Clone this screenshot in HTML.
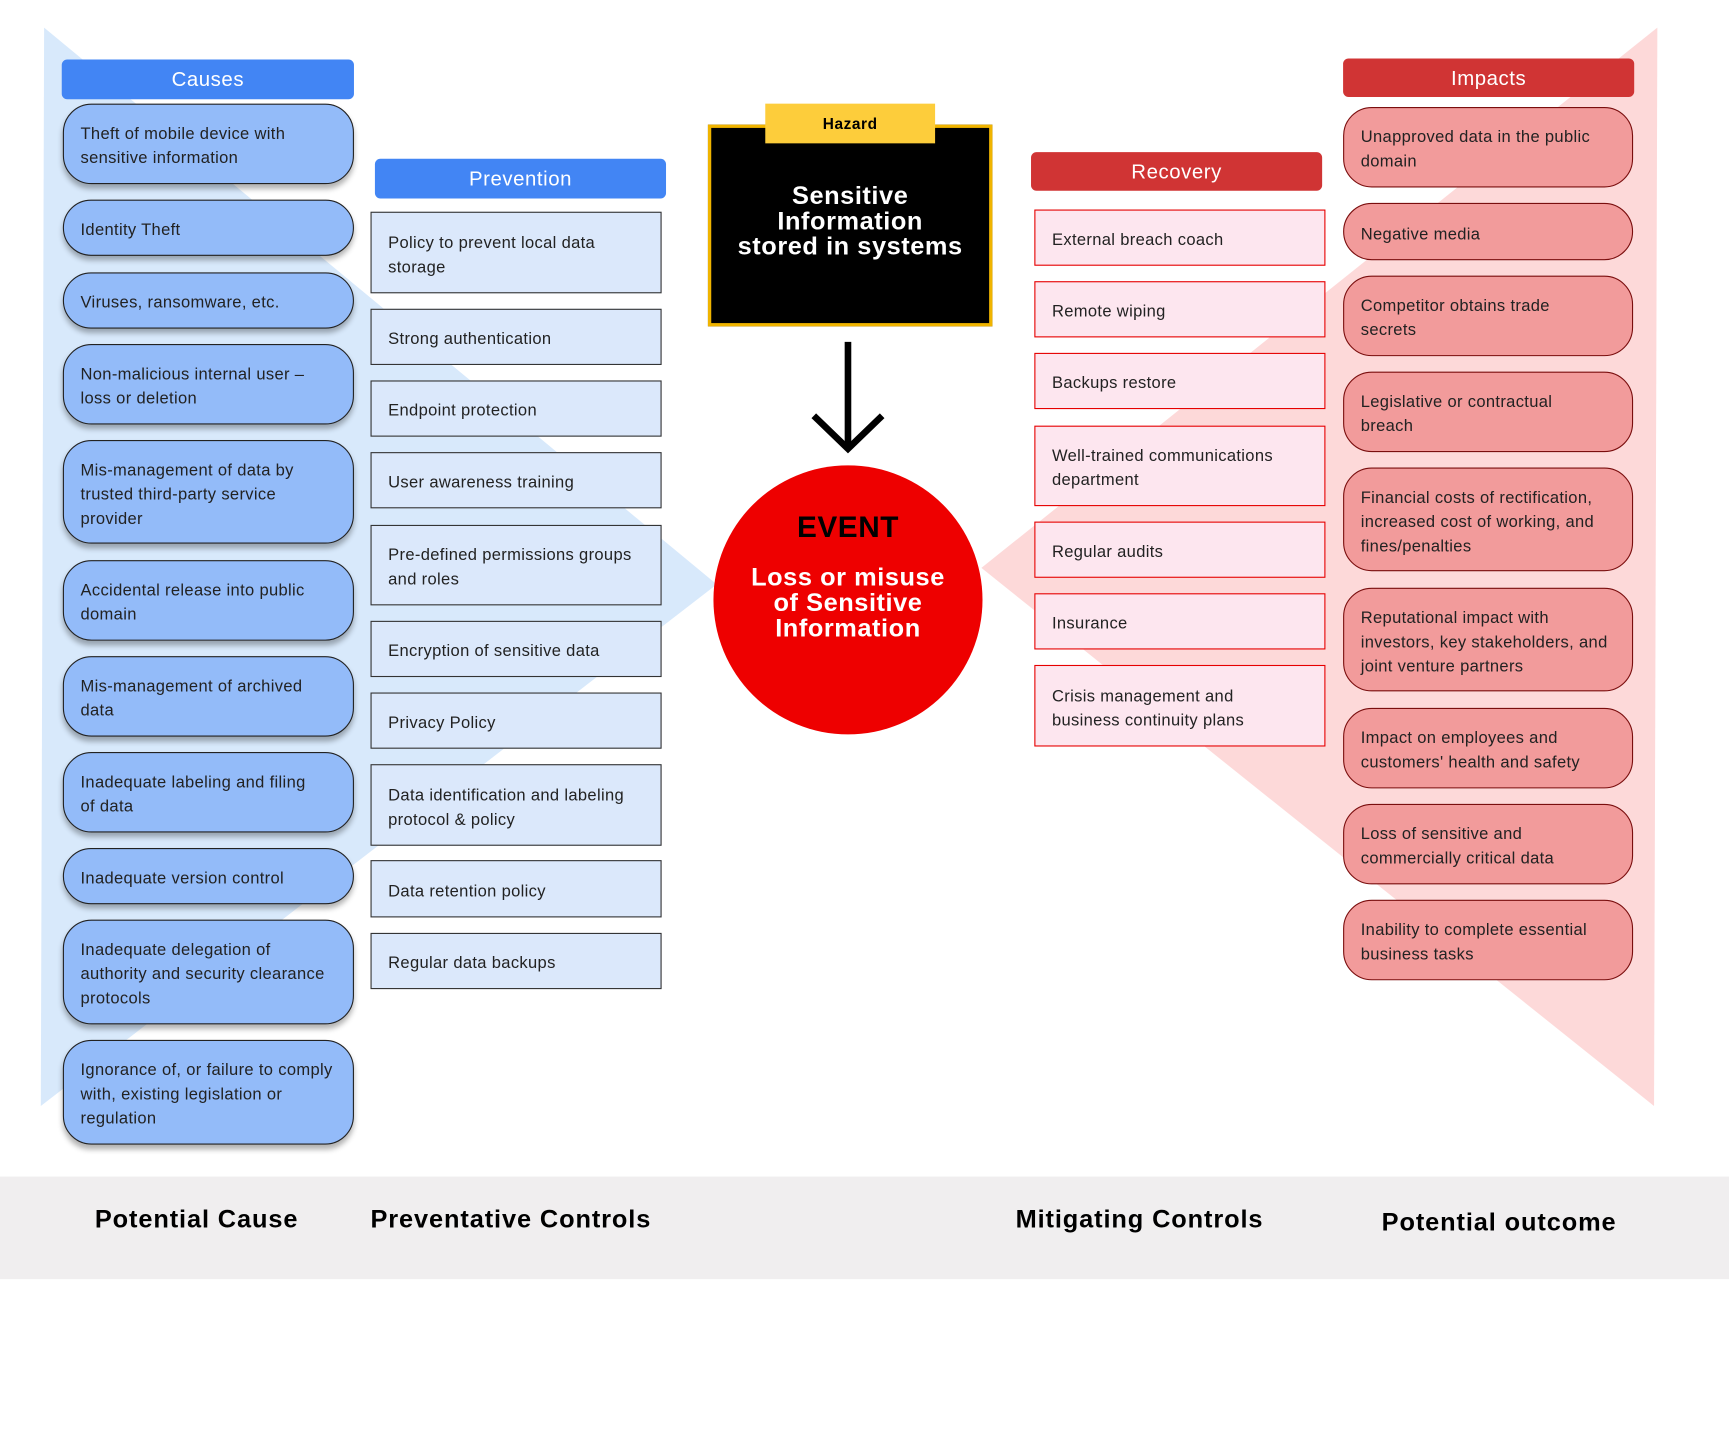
<!DOCTYPE html>
<html><head><meta charset="utf-8"><style>
html,body{margin:0;padding:0;background:#fff;width:1729px;height:1433px;overflow:hidden}
#w{position:absolute;left:0;top:0;width:1568px;height:1300px;transform:scale(1.1027);transform-origin:0 0;font-family:"Liberation Sans",sans-serif}
.a{position:absolute;box-sizing:border-box}
.hd{color:#fff;font-size:18.5px;display:flex;align-items:center;justify-content:center;border-radius:5px;letter-spacing:0.5px}
.c,.p,.r,.i{display:flex;align-items:center;padding:5px 15px 0 15px;font-size:15px;line-height:22px;color:#222;white-space:nowrap;letter-spacing:0.3px}
.c{background:#93bbf9;border:1px solid #222;border-radius:26px;box-shadow:0 4px 5px rgba(0,0,0,.3)}
.p{background:#dbe8fb;border:1px solid #333}
.r{background:#fde6ef;border:1px solid #e60000}
.i{background:#f29b9b;border:1px solid #7a0e0e;border-radius:26px}
.b{font-weight:bold;font-size:23px;color:#000;white-space:nowrap;letter-spacing:0.8px}
</style></head><body><div id="w">
<svg class="a" style="left:0;top:0" width="1568" height="1300">
<polygon points="40,25 650,530 37,1003" fill="#d8e9fb"/>
<polygon points="1503,25 890,515 1500,1003" fill="#fdd9d9"/>
<line x1="769" y1="310" x2="769" y2="404" stroke="#000" stroke-width="6"/>
<polyline points="738,377 769,407 800,377" fill="none" stroke="#000" stroke-width="6"/>
<circle cx="769" cy="544" r="122" fill="#ee0000"/>
</svg>
<div class="a hd" style="left:56px;top:54px;width:265px;height:36px;background:#4285f4">Causes</div>
<div class="a c" style="left:57px;top:94px;width:264px;height:73px">Theft of mobile device with<br>sensitive information</div>
<div class="a c" style="left:57px;top:181px;width:264px;height:51px">Identity Theft</div>
<div class="a c" style="left:57px;top:247px;width:264px;height:51px">Viruses, ransomware, etc.</div>
<div class="a c" style="left:57px;top:312px;width:264px;height:73px">Non-malicious internal user –<br>loss or deletion</div>
<div class="a c" style="left:57px;top:399px;width:264px;height:94px">Mis-management of data by<br>trusted third-party service<br>provider</div>
<div class="a c" style="left:57px;top:508px;width:264px;height:73px">Accidental release into public<br>domain</div>
<div class="a c" style="left:57px;top:595px;width:264px;height:73px">Mis-management of archived<br>data</div>
<div class="a c" style="left:57px;top:682px;width:264px;height:73px">Inadequate labeling and filing<br>of data</div>
<div class="a c" style="left:57px;top:769px;width:264px;height:51px">Inadequate version control</div>
<div class="a c" style="left:57px;top:834px;width:264px;height:95px">Inadequate delegation of<br>authority and security clearance<br>protocols</div>
<div class="a c" style="left:57px;top:943px;width:264px;height:95px">Ignorance of, or failure to comply<br>with, existing legislation or<br>regulation</div>

<div class="a hd" style="left:340px;top:144px;width:264px;height:36px;background:#4285f4">Prevention</div>
<div class="a p" style="left:336px;top:192px;width:264px;height:74px">Policy to prevent local data<br>storage</div>
<div class="a p" style="left:336px;top:280px;width:264px;height:51px">Strong authentication</div>
<div class="a p" style="left:336px;top:345px;width:264px;height:51px">Endpoint protection</div>
<div class="a p" style="left:336px;top:410px;width:264px;height:51px">User awareness training</div>
<div class="a p" style="left:336px;top:476px;width:264px;height:73px">Pre-defined permissions groups<br>and roles</div>
<div class="a p" style="left:336px;top:563px;width:264px;height:51px">Encryption of sensitive data</div>
<div class="a p" style="left:336px;top:628px;width:264px;height:51px">Privacy Policy</div>
<div class="a p" style="left:336px;top:693px;width:264px;height:74px">Data identification and labeling<br>protocol &amp; policy</div>
<div class="a p" style="left:336px;top:780px;width:264px;height:52px">Data retention policy</div>
<div class="a p" style="left:336px;top:846px;width:264px;height:51px">Regular data backups</div>

<div class="a" style="left:642px;top:113px;width:258px;height:183px;background:#000;border:3px solid #f0b400"></div>
<div class="a" style="left:694px;top:94px;width:154px;height:36px;background:#fdcd3b;font-weight:bold;font-size:14px;display:flex;align-items:center;justify-content:center;letter-spacing:0.5px">Hazard</div>
<div class="a" style="left:645px;top:166px;width:252px;text-align:center;color:#fff;font-weight:bold;font-size:23px;line-height:23px;letter-spacing:0.5px">Sensitive<br>Information<br>stored in systems</div>
<div class="a" style="left:647px;top:463px;width:244px;text-align:center;color:#000;font-weight:bold;font-size:27px;letter-spacing:0.5px">EVENT</div>
<div class="a" style="left:647px;top:512px;width:244px;text-align:center;color:#fff;font-weight:bold;font-size:23px;line-height:23px;letter-spacing:0.5px">Loss or misuse<br>of Sensitive<br>Information</div>

<div class="a hd" style="left:935px;top:138px;width:264px;height:35px;background:#d03434">Recovery</div>
<div class="a r" style="left:938px;top:190px;width:264px;height:51px">External breach coach</div>
<div class="a r" style="left:938px;top:255px;width:264px;height:51px">Remote wiping</div>
<div class="a r" style="left:938px;top:320px;width:264px;height:51px">Backups restore</div>
<div class="a r" style="left:938px;top:386px;width:264px;height:73px">Well-trained communications<br>department</div>
<div class="a r" style="left:938px;top:473px;width:264px;height:51px">Regular audits</div>
<div class="a r" style="left:938px;top:538px;width:264px;height:51px">Insurance</div>
<div class="a r" style="left:938px;top:603px;width:264px;height:74px">Crisis management and<br>business continuity plans</div>

<div class="a hd" style="left:1218px;top:53px;width:264px;height:35px;background:#d03434">Impacts</div>
<div class="a i" style="left:1218px;top:97px;width:263px;height:73px">Unapproved data in the public<br>domain</div>
<div class="a i" style="left:1218px;top:184px;width:263px;height:52px">Negative media</div>
<div class="a i" style="left:1218px;top:250px;width:263px;height:73px">Competitor obtains trade<br>secrets</div>
<div class="a i" style="left:1218px;top:337px;width:263px;height:73px">Legislative or contractual<br>breach</div>
<div class="a i" style="left:1218px;top:424px;width:263px;height:94px">Financial costs of rectification,<br>increased cost of working, and<br>fines/penalties</div>
<div class="a i" style="left:1218px;top:533px;width:263px;height:94px">Reputational impact with<br>investors, key stakeholders, and<br>joint venture partners</div>
<div class="a i" style="left:1218px;top:642px;width:263px;height:73px">Impact on employees and<br>customers' health and safety</div>
<div class="a i" style="left:1218px;top:729px;width:263px;height:73px">Loss of sensitive and<br>commercially critical data</div>
<div class="a i" style="left:1218px;top:816px;width:263px;height:73px">Inability to complete essential<br>business tasks</div>

<div class="a" style="left:0;top:1067px;width:1568px;height:93px;background:#f0eeef"></div>
<div class="a b" style="left:86px;top:1092px">Potential Cause</div>
<div class="a b" style="left:336px;top:1092px">Preventative Controls</div>
<div class="a b" style="left:921px;top:1092px">Mitigating Controls</div>
<div class="a b" style="left:1253px;top:1095px">Potential outcome</div>
</div></body></html>
